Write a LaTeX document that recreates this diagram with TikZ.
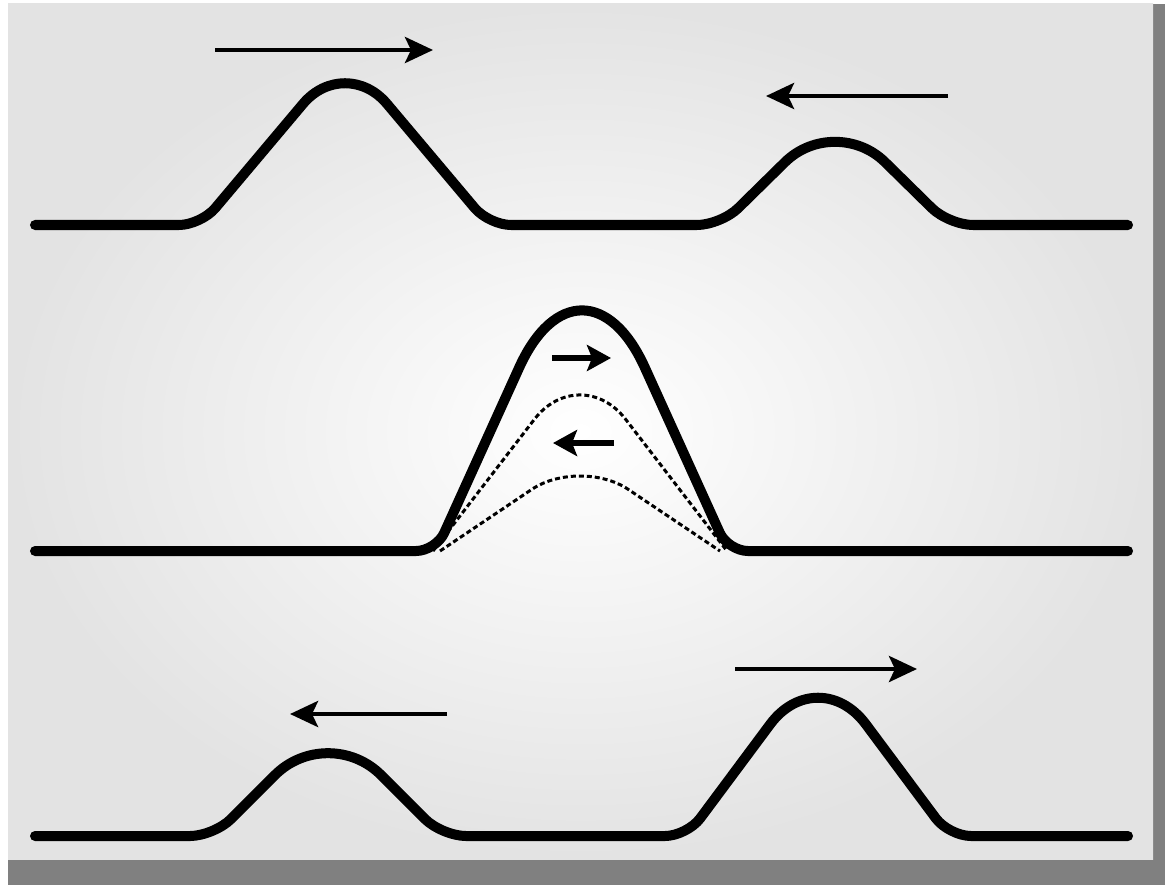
\documentclass[tikz,border=0pt]{standalone}
\usetikzlibrary{arrows.meta, calc}

% a rounded corner at #1, coming from #2, leaving to #3, cut at #4
\newcommand{\bend}[4]{($(#1)!#4!(#2)$) .. controls ($(#1)!0.45*#4!(#2)$)
  and ($(#1)!0.45*#4!(#3)$) .. ($(#1)!#4!(#3)$)}
% one hump on a base line: left foot, top x, top y, right foot, base y,
% foot bend, top bend
\newcommand{\pulse}[7]{-- \bend{#1,#5}{0,#5}{#2,#3}{#6}
  -- \bend{#2,#3}{#1,#5}{#4,#5}{#7}
  -- \bend{#4,#5}{#2,#3}{1165,#5}{#6}}

\begin{document}
\begin{tikzpicture}[x=0.01cm, y=-0.01cm,
    wave/.style={line width=0.1cm, line cap=round, line join=round},
    ghost/.style={line width=0.03cm, dash pattern=on 0.05cm off 0.03cm},
    motion/.style={line width=0.045cm,
      -{Stealth[length=0.28cm, width=0.26cm, inset=0.06cm]}},
    nudge/.style={line width=0.06cm,
      -{Stealth[length=0.24cm, width=0.26cm, inset=0.05cm]}}]
  \useasboundingbox (0,0) rectangle (1165,885);

  % panel with its shadow
  \fill[black!50] (8,4) rectangle (1165,885);
  \shade[inner color=white, outer color=black!11] (8,4) rectangle (1153,859);

  % before: two pulses moving towards each other
  \draw[wave] (35,225) \pulse{201}{345}{54}{489}{225}{0.22cm}{0.65cm}
    \pulse{721}{835}{113}{949}{225}{0.24cm}{0.7cm} -- (1128,225);
  \draw[motion] (215,50) -- (433,50);
  \draw[motion] (948,96) -- (766,96);

  % overlap: the pulses add up
  \draw[ghost] (440,551) -- \bend{580,457}{440,551}{720,551}{0.58cm} -- (720,551);
  \draw[ghost] (433,551) -- \bend{580,360}{433,551}{727,551}{0.75cm} -- (727,551);
  \draw[wave] (35,551) \pulse{436}{582}{229}{728}{551}{0.2cm}{1.52cm} -- (1128,551);
  \draw[nudge] (552,358) -- (611,358);
  \draw[nudge] (614,443) -- (553,443);

  % after: each pulse goes on unchanged
  \draw[wave] (35,836) \pulse{214}{328}{722}{442}{836}{0.24cm}{0.75cm}
    \pulse{687}{818}{660}{949}{836}{0.22cm}{0.8cm} -- (1128,836);
  \draw[motion] (447,714) -- (290,714);
  \draw[motion] (735,669) -- (917,669);
\end{tikzpicture}
\end{document}
